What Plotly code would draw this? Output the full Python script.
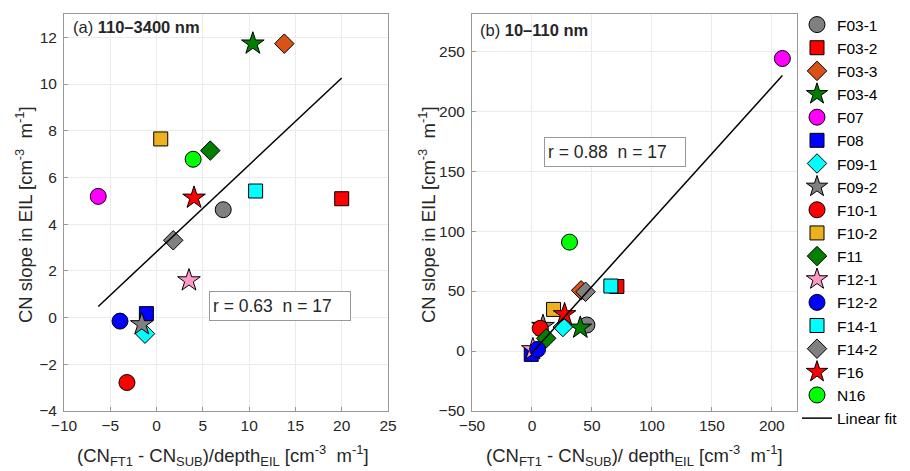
import plotly.graph_objects as go

# The page body adds an 8 px offset; the figure is sized so that it fills the 910x471 window.
OFF = 8
W, H = 910 - OFF, 471 - OFF


def PX(x):
    return (x - OFF) / W


def PY(y):
    return 1 - (y - OFF) / H


names = ["F03-1", "F03-2", "F03-3", "F03-4", "F07", "F08", "F09-1", "F09-2",
         "F10-1", "F10-2", "F11", "F12-1", "F12-2", "F14-1", "F14-2", "F16", "N16"]
symbols = ["circle", "square", "diamond", "star", "circle", "square", "diamond", "star",
           "circle", "square", "diamond", "star", "circle", "square", "diamond", "star", "circle"]
colors = ["#808080", "#ff0000", "#d95319", "#007f00", "#ff00ff", "#0000ff", "#00ffff", "#808080",
          "#ff0000", "#edb120", "#007f00", "#ff99c8", "#0000ff", "#00ffff", "#808080", "#ff0000", "#00ff00"]

# Panel (a): 110-3400 nm
xa = [7.2, 20.0, 13.8, 10.4, -6.3, -1.1, -1.25, -1.6, -3.2, 0.45, 5.8, 3.5, -3.95, 10.7, 1.8, 4.05, 3.95]
ya = [4.62, 5.09, 11.73, 11.73, 5.19, 0.17, -0.69, -0.29, -2.78, 7.65, 7.15, 1.59, -0.15, 5.42, 3.31, 5.13, 6.78]
# Panel (b): 10-110 nm
xb = [45.8, 70.8, 41.0, 40.3, 208.8, -0.6, 25.8, 9.2, 6.9, 18.0, 11.9, 0.8, 4.7, 65.8, 44.7, 27.2, 31.3]
yb = [21.7, 53.8, 50.6, 19.4, 243.9, -2.8, 20.0, 20.8, 18.9, 34.7, 10.6, 1.4, 1.4, 54.2, 49.4, 30.6, 90.8]

fit_a = {"slope": 0.372, "intercept": 2.82, "r": 0.63, "n": 17}
fit_b = {"slope": 1.108, "intercept": -1.6, "r": 0.88, "n": 17}

sizes = {"circle": 16, "square": 14, "diamond": 15, "star": 17}

fig = go.Figure()
xa_fit = [min(xa), max(xa)]
ya_fit = [fit_a["slope"] * v + fit_a["intercept"] for v in xa_fit]
xb_fit = [min(xb), max(xb)]
yb_fit = [fit_b["slope"] * v + fit_b["intercept"] for v in xb_fit]

for i, nm in enumerate(names):
    mk = dict(symbol=symbols[i], color=colors[i], size=sizes[symbols[i]],
              line=dict(color="black", width=1))
    fig.add_trace(go.Scatter(x=[xa[i]], y=[ya[i]], mode="markers", marker=mk, name=nm,
                             showlegend=True, xaxis="x", yaxis="y"))
for i, nm in enumerate(names):
    mk = dict(symbol=symbols[i], color=colors[i], size=sizes[symbols[i]],
              line=dict(color="black", width=1))
    fig.add_trace(go.Scatter(x=[xb[i]], y=[yb[i]], mode="markers", marker=mk, name=nm,
                             showlegend=False, xaxis="x2", yaxis="y2"))

# fit lines drawn on top of the markers, listed last in the legend
fig.add_trace(go.Scatter(x=xa_fit, y=ya_fit, mode="lines", line=dict(color="black", width=1.5),
                         name="Linear fit", showlegend=True, xaxis="x", yaxis="y"))
fig.add_trace(go.Scatter(x=xb_fit, y=yb_fit, mode="lines", line=dict(color="black", width=1.5),
                         name="Linear fit", showlegend=False, xaxis="x2", yaxis="y2"))

FONT = "Liberation Sans, Arial, sans-serif"
TXT = "#262626"
ax_common = dict(showline=True, mirror=True, linecolor="#999999", linewidth=1,
                 ticks="inside", ticklen=4, tickcolor="#999999",
                 showgrid=True, gridcolor="#ebebeb", gridwidth=1, zeroline=False,
                 automargin=False,
                 tickfont=dict(family=FONT, size=15.5, color=TXT))

y0, y1 = PY(411), PY(14)
fig.update_layout(
    width=W, height=H, margin=dict(l=0, r=0, t=0, b=0, autoexpand=False),
    paper_bgcolor="white", plot_bgcolor="white",
    font=dict(family=FONT, color=TXT),
    xaxis=dict(domain=[PX(64), PX(388)], range=[-10, 25], dtick=5, anchor="y", **ax_common),
    yaxis=dict(domain=[y0, y1], range=[-4, 13], tickvals=[-4, -2, 0, 2, 4, 6, 8, 10, 12], anchor="x",
               ticklabelstandoff=3, **ax_common),
    xaxis2=dict(domain=[PX(472), PX(797)], range=[-50, 221], tickvals=[-50, 0, 50, 100, 150, 200], anchor="y2", **ax_common),
    yaxis2=dict(domain=[y0, y1], range=[-50, 281], tickvals=[-50, 0, 50, 100, 150, 200, 250], anchor="x2",
                ticklabelstandoff=3, **ax_common),
    legend=dict(x=PX(797), y=1, xanchor="left", yanchor="top",
                font=dict(family=FONT, size=15.5, color="black"),
                tracegroupgap=0, itemwidth=30,
                bgcolor="rgba(0,0,0,0)"),
    showlegend=True,
)

xt_a = "(CN<sub>FT1</sub> - CN<sub>SUB</sub>)/depth<sub>EIL</sub> [cm<sup>-3</sup>&nbsp; m<sup>-1</sup>]"
xt_b = "(CN<sub>FT1</sub> - CN<sub>SUB</sub>)/ depth<sub>EIL</sub> [cm<sup>-3</sup>&nbsp; m<sup>-1</sup>]"
yt = "CN slope in EIL [cm<sup>-3</sup>&nbsp; m<sup>-1</sup>]"

box = dict(font=dict(size=17.5), bordercolor="#999999", borderwidth=1, borderpad=3,
           width=134, height=22, align="left", bgcolor="white",
           xanchor="left", yanchor="top")
ann = [
    dict(x=PX(223), y=PY(455), text=xt_a, font=dict(size=18.5)),
    dict(x=PX(634), y=PY(455), text=xt_b, font=dict(size=18.5)),
    dict(x=PX(24), y=PY(215), text=yt, textangle=-90, font=dict(size=18.5)),
    dict(x=PX(427), y=PY(215), text=yt, textangle=-90, font=dict(size=18.5)),
    dict(x=PX(71), y=PY(27.5), xanchor="left", text="(a) <b>110–3400 nm</b>", font=dict(size=16.5)),
    dict(x=PX(478), y=PY(30), xanchor="left", text="(b) <b>10–110 nm</b>", font=dict(size=16.5)),
    dict(x=PX(209), y=PY(291), text=f"r = {fit_a['r']:.2f}&nbsp; n = {fit_a['n']}", **box),
    dict(x=PX(544), y=PY(137), text=f"r = {fit_b['r']:.2f}&nbsp; n = {fit_b['n']}", **box),
]
for a in ann:
    a = dict(a)
    a.setdefault("xanchor", "center")
    a.setdefault("yanchor", "middle")
    a["xref"] = "paper"
    a["yref"] = "paper"
    a["showarrow"] = False
    a["font"] = dict(family=FONT, color=TXT, **a["font"])
    fig.add_annotation(**a)

fig.write_html("out.html")
